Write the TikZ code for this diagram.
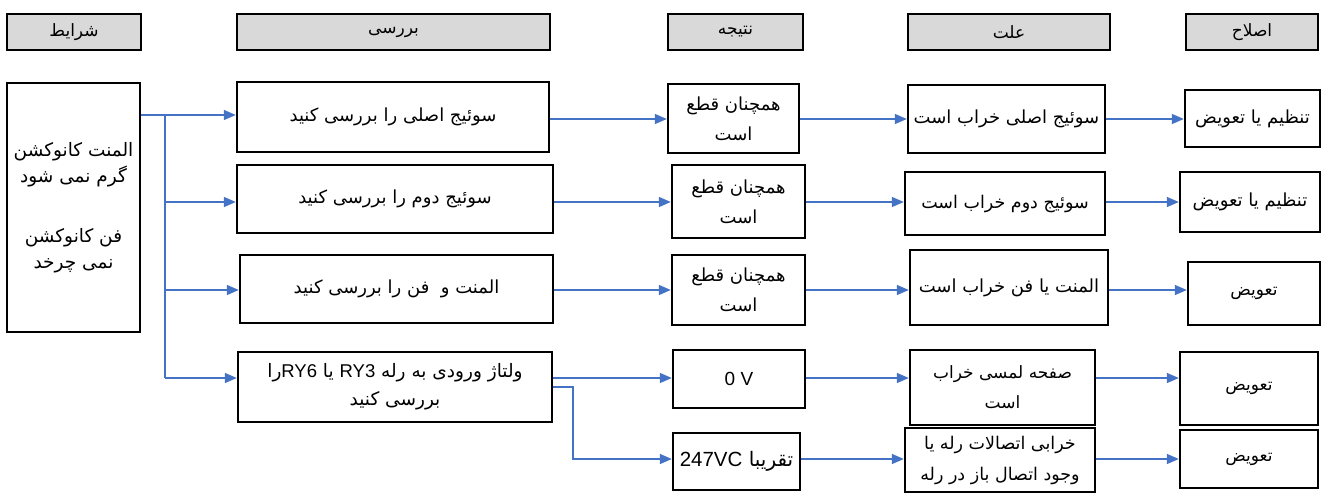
\documentclass[tikz,border=0pt]{standalone}
\usepackage{fontspec}
\usetikzlibrary{arrows.meta}
\TeXXeTstate=1
\newfontfamily\fa[Script=Arabic]{DejaVu Sans}
\newfontfamily\lat{Liberation Sans}
\definecolor{lnblue}{HTML}{4472C4}
\definecolor{hdgray}{HTML}{D9D9D9}
\newcommand{\fR}[1]{\beginR #1\endR}
\newcommand{\fL}[1]{\beginL{\lat #1}\endL{}}
\newcommand{\bx}[7]{\node[#1, minimum width={(#5-#3)*1pt}, minimum height={(#6-#4)*1pt}] (#2) at ({(#3+#5)/2},{(#4+#6)/2}) {#7};}
\begin{document}
\begin{tikzpicture}[x=1pt,y=-1pt,
  fz/.style 2 args={font=\fa\fontsize{#1}{#2}\selectfont},
  box/.style={draw, line width=2.4pt, align=center, inner sep=1pt, fz={18}{30}},
  head/.style={box, fill=hdgray, fz={17}{20}},
  arr/.style={draw=lnblue, line width=1.6pt, -{Triangle[length=12pt,width=10pt]}},
  ln/.style={draw=lnblue, line width=1.6pt}]
\useasboundingbox (0,0) rectangle (1325,493);
% headers
\bx{head}{h1}{7}{14}{141}{50}{\fR{شرایط}}
\bx{head}{h2}{237}{14}{550}{50}{\fR{بررسی}}
\bx{head}{h3}{668}{14}{803}{50}{\fR{نتیجه}}
\bx{head}{h4}{908}{14}{1110}{50}{\fR{علت}}
\bx{head}{h5}{1186}{14}{1318}{50}{\fR{اصلاح}}
% left box
\bx{box, fz={18.5}{26}}{L}{7}{83}{140}{332}{\fR{المنت کانوکشن}\\\fR{گرم نمی شود}\\[34pt]\fR{فن کانوکشن}\\\fR{نمی چرخد}}
% row 1
\bx{box}{C1}{237}{82}{549}{152}{\fR{سوئیج اصلی را بررسی کنید}}
\bx{box}{R1}{668}{84}{799}{153}{\fR{همچنان قطع}\\\fR{است}}
\bx{box}{W1}{908}{85}{1105}{153}{\fR{سوئیج اصلی خراب است}}
\bx{box}{F1}{1185}{90}{1320}{147}{\fR{تنظیم یا تعویض}}
% row 2
\bx{box}{C2}{237}{165}{553}{233}{\fR{سوئیج دوم را بررسی کنید}}
\bx{box}{R2}{672}{165}{805}{238}{\fR{همچنان قطع}\\\fR{است}}
\bx{box, fz={17.5}{28}}{W2}{905}{172}{1105}{235}{\fR{سوئیج دوم خراب است}}
\bx{box}{F2}{1180}{172}{1320}{232}{\fR{تنظیم یا تعویض}}
% row 3
\bx{box}{C3}{240}{255}{553}{323}{\fR{المنت و\ \ فن را بررسی کنید}}
\bx{box}{R3}{672}{255}{805}{325}{\fR{همچنان قطع}\\\fR{است}}
\bx{box}{W3}{910}{250}{1108}{325}{\fR{المنت یا فن خراب است}}
\bx{box, fz={17}{28}}{F3}{1188}{262}{1320}{325}{\fR{تعویض}}
% row 4
\bx{box, fz={18.5}{28}}{C4}{238}{352}{552}{422}{\fR{ولتاژ ورودی به رله \fL{\fontsize{18.5}{20}\selectfont RY3} یا \fL{\fontsize{18.5}{20}\selectfont RY6}را}\\\fR{بررسی کنید}}
\bx{box, font=\lat\fontsize{19}{22}\selectfont}{R4}{673}{350}{805}{408}{0 V}
\bx{box, fz={17}{30}}{W4}{910}{350}{1095}{425}{\fR{صفحه لمسی خراب}\\\fR{است}}
\bx{box, fz={17}{28}}{F4}{1180}{352}{1318}{425}{\fR{تعویض}}
% row 5
\bx{box, fz={20}{24}, inner sep=0pt}{R5}{673}{433}{800}{490}{\fR{تقریبا \fL{\fontsize{20.5}{24}\selectfont 247VC}}}
\bx{box, fz={17.5}{31}}{W5}{905}{428}{1095}{492}{\fR{خرابی اتصالات رله یا}\\\fR{وجود اتصال باز در رله}}
\bx{box, fz={17}{28}}{F5}{1180}{430}{1318}{488}{\fR{تعویض}}
% row levels
\coordinate (y1) at (0,115);
\coordinate (y2) at (0,202);
\coordinate (y3) at (0,290);
\coordinate (y4) at (0,378);
\coordinate (r1) at (0,119);
\coordinate (r5) at (0,459);
\coordinate (tr) at (165,115);
\coordinate (bend) at (573,387);
% trunk and branches
\draw[ln] (tr) -- (tr |- y4);
\draw[arr] (L.east |- y1) -- (C1.west |- y1);
\draw[arr] (tr |- y2) -- (C2.west |- y2);
\draw[arr] (tr |- y3) -- (C3.west |- y3);
\draw[arr] (tr |- y4) -- (C4.west |- y4);
% rows
\draw[arr] (C1.east |- r1) -- (R1.west |- r1);
\draw[arr] (R1.east |- r1) -- (W1.west |- r1);
\draw[arr] (W1.east |- r1) -- (F1.west |- r1);
\draw[arr] (C2.east |- y2) -- (R2.west |- y2);
\draw[arr] (R2.east |- y2) -- (W2.west |- y2);
\draw[arr] (W2.east |- y2) -- (F2.west |- y2);
\draw[arr] (C3.east |- y3) -- (R3.west |- y3);
\draw[arr] (R3.east |- y3) -- (W3.west |- y3);
\draw[arr] (W3.east |- y3) -- (F3.west |- y3);
\draw[arr] (C4.east |- y4) -- (R4.west |- y4);
\draw[arr] (R4.east |- y4) -- (W4.west |- y4);
\draw[arr] (W4.east |- y4) -- (F4.west |- y4);
\draw[arr] (C4.east |- bend) -- (bend) -- (bend |- r5) -- (R5.west |- r5);
\draw[arr] (R5.east |- r5) -- (W5.west |- r5);
\draw[arr] (W5.east |- r5) -- (F5.west |- r5);
\end{tikzpicture}
\end{document}
